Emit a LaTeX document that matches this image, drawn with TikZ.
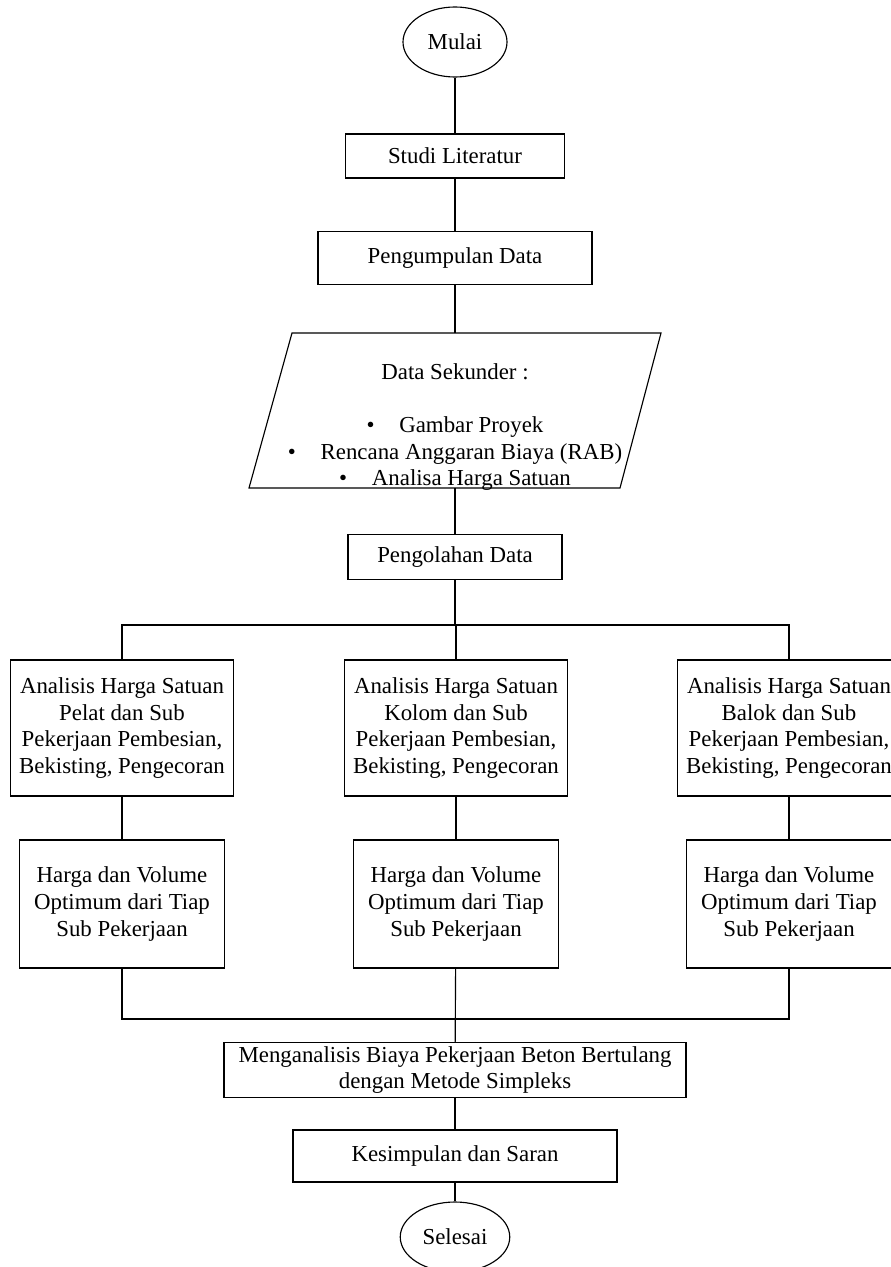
\documentclass[tikz,border=0pt]{standalone}
\usepackage{fontspec}
\setmainfont{Liberation Serif}
\usetikzlibrary{shapes.geometric}
\newcommand\pxu{0.525pt}

\begin{document}
\begin{tikzpicture}[x=0.525pt, y=-0.525pt, line width=0.6pt,
	step box/.style={draw, rectangle, align=center, inner sep=2pt,
		font=\fontsize{12}{14}\selectfont,
		minimum width=#1*\pxu},
	term oval/.style={draw, ellipse, font=\fontsize{12}{14}\selectfont,
		minimum width=104*\pxu, minimum height=70*\pxu}]
  \useasboundingbox (0,0) rectangle (891,1267);

\node[term oval] (mulai) at (455,42) {Mulai};
\node[step box=219, minimum height=44*\pxu] (studi) at (455,156) {Studi Literatur};
\node[step box=274, minimum height=53*\pxu] (kumpul) at (455,258) {Pengumpulan Data};

% data sekunder (parallelogram)
\draw (292,333) -- (661,333) -- (620,488) -- (249,488) -- cycle;
\coordinate (dtop) at (455,333);
\coordinate (dbot) at (455,488);
\node[align=center, font=\fontsize{12}{14}\selectfont] (data) at (455,427)
	{Data Sekunder :\\[14pt]
	 \textbullet\hspace{13pt}Gambar Proyek\\
	 \textbullet\hspace{13pt}Rencana Anggaran Biaya (RAB)\\
	 \textbullet\hspace{13pt}Analisa Harga Satuan};

\node[step box=214, minimum height=45*\pxu] (olah) at (455,557) {Pengolahan Data};
\coordinate (split) at (455,625);

\node[step box=223, minimum height=136*\pxu] (pelat) at (122,728)
	{Analisis Harga Satuan\\Pelat dan Sub\\Pekerjaan Pembesian,\\Bekisting, Pengecoran};
\node[step box=223, minimum height=136*\pxu] (kolom) at (456,728)
	{Analisis Harga Satuan\\Kolom dan Sub\\Pekerjaan Pembesian,\\Bekisting, Pengecoran};
\node[step box=223, minimum height=136*\pxu] (balok) at (789,728)
	{Analisis Harga Satuan\\Balok dan Sub\\Pekerjaan Pembesian,\\Bekisting, Pengecoran};

\node[step box=205, minimum height=128*\pxu] (optpelat) at (122,904)
	{Harga dan Volume\\Optimum dari Tiap\\Sub Pekerjaan};
\node[step box=205, minimum height=128*\pxu] (optkolom) at (456,904)
	{Harga dan Volume\\Optimum dari Tiap\\Sub Pekerjaan};
\node[step box=205, minimum height=128*\pxu] (optbalok) at (789,904)
	{Harga dan Volume\\Optimum dari Tiap\\Sub Pekerjaan};
\coordinate (merge) at (456,1019);

\node[step box=462, minimum height=52*\pxu] (simpleks) at (455,1070)
	{Menganalisis Biaya Pekerjaan Beton Bertulang\\dengan Metode Simpleks};
\node[step box=324, minimum height=52*\pxu] (saran) at (455,1156) {Kesimpulan dan Saran};
\node[term oval] (selesai) at (455,1237) {Selesai};

% connectors
\draw (mulai) -- (studi);
\draw (studi) -- (kumpul);
\draw (kumpul) -- (dtop);
\draw (dbot) -- (olah);
\draw (olah) -- (split);
\draw (pelat.north) -- (pelat.north |- split) -- (balok.north |- split) -- (balok.north);
\draw (kolom.north |- split) -- (kolom.north);
\draw (pelat) -- (optpelat);
\draw (kolom) -- (optkolom);
\draw (balok) -- (optbalok);
\draw (optpelat.south) -- (optpelat.south |- merge) -- (optbalok.south |- merge) -- (optbalok.south);
\draw (optkolom) -- (simpleks);
\draw (simpleks) -- (saran);
\draw (saran) -- (selesai);
\end{tikzpicture}
\end{document}
